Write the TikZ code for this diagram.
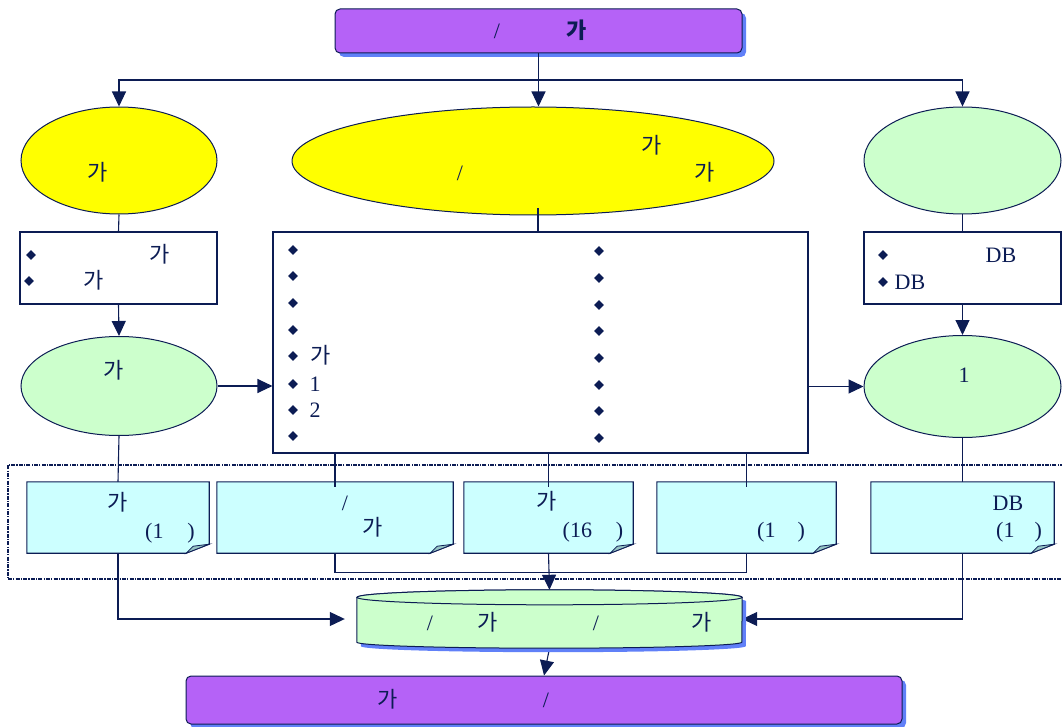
\documentclass[tikz,border=0pt]{standalone}
\usepackage{fontspec}
\setmainfont{Liberation Serif}
\newfontfamily\kr{Noto Sans CJK KR}
\usetikzlibrary{arrows.meta,shapes.geometric,shadows}

\definecolor{navy}{RGB}{12,28,84}
\definecolor{violet1}{RGB}{181,98,247}
\definecolor{shblue}{RGB}{96,128,248}
\definecolor{lgreen}{RGB}{204,255,204}
\definecolor{lcyan}{RGB}{204,255,255}
\definecolor{foldc}{RGB}{150,196,196}
\definecolor{yel1}{RGB}{255,255,0}

\tikzset{
  every node/.style={font=\fontsize{22}{25}\selectfont, text=navy},
  ln/.style={draw=navy, line width=1.1pt},
  arr/.style={ln, -{Triangle[length=15pt,width=14pt]}},
  hdr/.style={draw=navy, line width=1pt, fill=violet1, rounded corners=5pt,
    drop shadow={shadow xshift=4pt, shadow yshift=-4pt, fill=shblue, opacity=1}},
  yel/.style={ellipse, draw=navy, line width=1pt, fill=yel1, inner sep=0pt},
  grn/.style={ellipse, draw=navy, line width=1pt, fill=lgreen, inner sep=0pt},
  lst/.style={rectangle, draw=navy, line width=1.1pt, fill=white, inner sep=0pt},
  doc/.style={rectangle, inner sep=0pt, minimum height=71pt},
  grp/.style={rectangle, draw=navy, line width=1.7pt, dash pattern=on 4pt off 1.2pt on 1.2pt off 1.2pt},
  bul/.style={diamond, fill=navy, inner sep=0pt, minimum size=10pt},
  txt/.style={inner sep=0pt, text height=16pt, text depth=2pt},
}

\begin{document}
\begin{tikzpicture}[x=1pt,y=-1pt]
    \useasboundingbox (0,0) rectangle (1062,727);

    % top and bottom bars
    \node[hdr, minimum width=407pt, minimum height=44pt] (top) at (538.5,31) {};
    \node[hdr, minimum width=716pt, minimum height=48pt] (bot) at (544,700) {};

    % first row
    \node[yel, minimum width=196pt, minimum height=107pt] (lell) at (119,160.5) {};
    \node[yel, minimum width=482pt, minimum height=108pt] (mell) at (533,161) {};
    \node[grn, minimum width=197pt, minimum height=107pt] (rell) at (962.5,160.5) {};

    % lists
    \node[lst, minimum width=197pt, minimum height=72pt] (lbox) at (118.5,268) {};
    \node[lst, minimum width=535pt, minimum height=221pt] (mbox) at (540.5,342.5) {};
    \node[lst, minimum width=197pt, minimum height=72pt] (rbox) at (962.5,268) {};

    % second row
    \node[grn, minimum width=196pt, minimum height=99pt] (lgr) at (119,386) {};
    \node[grn, minimum width=197pt, minimum height=102pt] (rgr) at (962.5,386.5) {};

    % group of documents
    \node[grp, minimum width=1060pt, minimum height=114pt] (grp) at (538,522) {};
    \node[doc, minimum width=182pt] (d1) at (118,517.5) {};
    \node[doc, minimum width=236pt] (d2) at (335,517.5) {};
    \node[doc, minimum width=169pt] (d3) at (548.5,517.5) {};
    \node[doc, minimum width=179pt] (d4) at (746.5,517.5) {};
    \node[doc, minimum width=183pt] (d5) at (962.5,517.5) {};

    % database
    \node[rectangle, inner sep=0pt, minimum width=385pt, minimum height=58pt] (cyl) at (549.5,619) {};

    % connectors
    \coordinate (split) at (538,80);
    \coordinate (mtop) at (538,208);
    \draw[arr] (top.south) -- (top.south |- mell.north);
    \draw[arr] (split) -| (lell.north);
    \draw[arr] (split) -| (rell.north);
    \draw[ln] (mtop) -- (mtop |- mbox.north);
    \draw[ln] (lell.south) -- (lbox.north);
    \draw[arr] (lbox.south) -- (lgr.north);
    \draw[ln] (rell.south) -- (rbox.north);
    \draw[arr] (rbox.south) -- (rgr.north);
    \draw[arr] (lgr.east) -- (lgr.east -| mbox.west);
    \draw[arr] (mbox.east |- rgr.west) -- (rgr.west);
    \draw[ln] (lgr.south) -- (d1.north);
    \draw[ln] (rgr.south) -- (d5.north);
    \draw[arr, shorten >=12pt] (d1.south) |- (cyl.west);
    \draw[arr] (d5.south) |- (cyl.east);
    \draw[ln] (d2.south) |- ([yshift=-19pt]d4.south) -- (d4.south);
    \draw[arr] (d3.south) -- (cyl.north);
    \draw[arr] (cyl.south) -- (bot.north);

    % documents with folded corner
    \foreach \d in {d1,d2,d3,d4,d5} {
        \draw[navy, line width=1.1pt, fill=lcyan] (\d.north west) -- (\d.north east)
            -- ([yshift=9pt]\d.south east) -- ([xshift=-23pt]\d.south east)
            -- (\d.south west) -- cycle;
        \draw[navy, line width=0.8pt, fill=foldc] ([yshift=9pt]\d.south east)
            -- ([xshift=-23pt]\d.south east) -- ([xshift=-16pt,yshift=7pt]\d.south east) -- cycle;
    }
    \foreach \d in {d2,d3,d4}
        \draw[ln] (mbox.south -| \d.north) -- ([yshift=-5pt]\d.north);

    % cylinder
    \path[draw=navy, line width=1pt, fill=lgreen,
          drop shadow={shadow xshift=4pt, shadow yshift=-4pt, fill=shblue, opacity=1}]
        ([yshift=-7.5pt]cyl.north west) -- ([yshift=6pt]cyl.south west)
        arc[start angle=180, end angle=360, x radius=192.5pt, y radius=6pt]
        -- ([yshift=-7.5pt]cyl.north east)
        arc[start angle=0, end angle=180, x radius=192.5pt, y radius=7.5pt] -- cycle;
    \draw[navy, line width=1pt, fill=lgreen] ([yshift=-7.5pt]cyl.north)
        ellipse[x radius=192.5pt, y radius=7.5pt];

    % bullets
    \node[bul] (lb1) at (31,255) {};
    \node[bul] (lb2) at (29,281) {};
    \node[bul] (rb1) at (883,255) {};
    \node[bul] (rb2) at (883,282) {};
    \foreach \y [count=\i] in {250,276,303,330,356,384,410,436}
        \node[bul] (ml\i) at (293,\y) {};
    \foreach \y [count=\i] in {251,278,305,331,358,385,411,438}
        \node[bul] (mr\i) at (599,\y) {};

    % texts
    \node[txt] (top-a) at (497,32) {/};
    \node[txt] (top-b) at (577,32) {\kr\bfseries 가};
    \node[txt] (lell-a) at (98,174) {\kr 가};
    \node[txt] (mell-a) at (652,147) {\kr 가};
    \node[txt] (mell-b) at (460,174) {/};
    \node[txt] (mell-c) at (705,174) {\kr 가};
    \node[txt] (lbox-a) at (160,255) {\kr 가};
    \node[txt] (lbox-b) at (94,281) {\kr 가};
    \node[txt] (lgr-a) at (114,371) {\kr 가};
    \node[txt] (mbox-a) at (321,356) {\kr 가};
    \node[txt] (mbox-b) at (315,384) {1};
    \node[txt] (mbox-c) at (315,410) {2};
    \node[txt] (rbox-a) at (1001,255) {DB};
    \node[txt] (rbox-b) at (910,282) {DB};
    \node[txt] (rgr-a) at (964,375) {1};
    \node[txt] (d1-a) at (118,503) {\kr 가};
    \node[txt] (d1-b) at (170,531) {(1\hspace{24pt})};
    \node[txt] (d2-a) at (345,503) {/};
    \node[txt] (d2-b) at (373,528) {\kr 가};
    \node[txt] (d3-a) at (547,502) {\kr 가};
    \node[txt] (d3-b) at (593,530) {(16\hspace{24pt})};
    \node[txt] (d4-a) at (781,530) {(1\hspace{22pt})};
    \node[txt] (d5-a) at (1008,503) {DB};
    \node[txt] (d5-b) at (1019,530) {(1\hspace{20pt})};
    \node[txt] (cyl-a) at (430,623) {/};
    \node[txt] (cyl-b) at (488,623) {\kr 가};
    \node[txt] (cyl-c) at (596,623) {/};
    \node[txt] (cyl-d) at (702,623) {\kr 가};
    \node[txt] (bot-a) at (388,700) {\kr 가};
    \node[txt] (bot-b) at (546,700) {/};
\end{tikzpicture}
\end{document}
